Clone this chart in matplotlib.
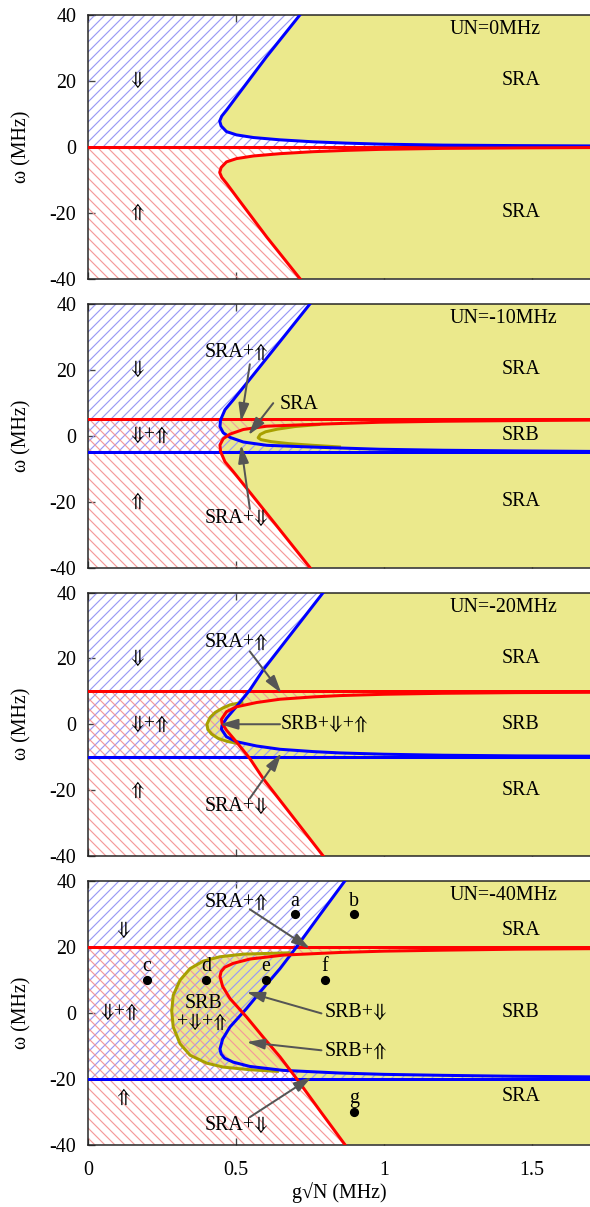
import matplotlib
matplotlib.use('Agg')
import matplotlib.pyplot as plt
from matplotlib.patches import Polygon

plt.rcParams['font.family'] = ['Liberation Serif', 'STIXGeneral', 'DejaVu Serif']
plt.rcParams['font.size'] = 12
plt.rcParams['hatch.linewidth'] = 0.7
plt.rcParams['axes.unicode_minus'] = False

DN = '\u21d3'
UP = '\u21d1'

XMAX = 1.7
YLIM = 40
titles = ['UN=0MHz', 'UN=-10MHz', 'UN=-20MHz', 'UN=-40MHz']
levels = [0, 5, 10, 20]  # red line at +level, blue line at -level

# blue C-curves (top -> nose -> lower branch); red curves are the mirror image
blue_x_p1 = [0.716, 0.604, 0.502, 0.469, 0.452, 0.445, 0.450, 0.468, 0.502, 0.559, 0.649, 0.761, 0.874, 0.986, 1.2, 1.45, 1.7]
blue_y_p1 = [40, 27.4, 15.2, 11.2, 9.3, 7.8, 6.3, 4.6, 3.6, 2.8, 2.1, 1.5, 1.1, 0.8, 0.5, 0.35, 0.25]
blue_x_p2 = [0.75, 0.64, 0.55, 0.491, 0.463, 0.448, 0.446, 0.457, 0.48, 0.525, 0.604, 0.716, 0.829, 0.986, 1.2, 1.45, 1.7]
blue_y_p2 = [40, 27.6, 17.5, 10.9, 7.9, 4.8, 2.8, 0.9, -0.5, -1.9, -2.9, -3.3, -3.65, -4.1, -4.4, -4.6, -4.75]
blue_x_p3 = [0.795, 0.70, 0.592, 0.547, 0.502, 0.468, 0.453, 0.451, 0.468, 0.502, 0.570, 0.649, 0.761, 0.851, 1.0, 1.2, 1.45, 1.7]
blue_y_p3 = [40, 29, 16.5, 10.4, 5.4, 1.8, -0.3, -1.5, -3.8, -5.3, -6.6, -7.6, -8.3, -8.7, -9.1, -9.4, -9.6, -9.7]
blue_x_p4 = [0.868, 0.786, 0.705, 0.649, 0.592, 0.536, 0.48, 0.455, 0.446, 0.450, 0.462, 0.491, 0.547, 0.66, 0.851, 1.0, 1.2, 1.45, 1.7]
blue_y_p4 = [40, 30, 20, 13.4, 7.4, 1.3, -4.3, -8.0, -11.0, -12.5, -13.8, -15.0, -16.3, -17.5, -18.3, -18.7, -19.0, -19.3, -19.45]

# olive boundary curves (upper end -> nose -> lower end)
olive_x_p2 = [0.78, 0.70, 0.64, 0.60, 0.582, 0.575, 0.585, 0.62, 0.68, 0.76, 0.85]
olive_y_p2 = [3.4, 2.8, 2.0, 1.2, 0.4, -0.6, -1.2, -1.8, -2.4, -2.9, -3.4]
olive_x_p3 = [0.52, 0.48, 0.455, 0.43, 0.412, 0.402, 0.405, 0.418, 0.44, 0.47, 0.51]
olive_y_p3 = [6.6, 5.9, 4.9, 3.6, 2.0, 0.0, -1.6, -3.0, -4.3, -5.2, -5.9]
olive_x_p4 = [0.68, 0.60, 0.525, 0.446, 0.39, 0.345, 0.311, 0.288, 0.283, 0.288, 0.311, 0.345, 0.401, 0.457, 0.547, 0.64]
olive_y_p4 = [18.2, 18.0, 17.8, 17.0, 15.7, 13.4, 9.9, 5.3, 0.5, -4.3, -9.4, -12.9, -15.3, -16.5, -17.3, -17.8]

blue_x = [blue_x_p1, blue_x_p2, blue_x_p3, blue_x_p4]
blue_y = [blue_y_p1, blue_y_p2, blue_y_p3, blue_y_p4]
olive_x = [None, olive_x_p2, olive_x_p3, olive_x_p4]
olive_y = [None, olive_y_p2, olive_y_p3, olive_y_p4]

# sample points in panel 4
dot_labels = ['a', 'b', 'c', 'd', 'e', 'f', 'g']
dot_x = [0.7, 0.9, 0.2, 0.4, 0.6, 0.8, 0.9]
dot_y = [30, 30, 10, 10, 10, 10, -30]

YELLOW = '#ebe98c'
OLIVE = '#a8a000'
ARROW = '#555555'

W, H, DPI = 590, 1207, 120
fig = plt.figure(figsize=(W / DPI, H / DPI), dpi=DPI)
tops = [15, 304, 592.5, 881]
ph = 263.5
left = 88 / W
width = 503 / W

axes = []
for i in range(4):
    ax = fig.add_axes([left, 1 - (tops[i] + ph) / H, width, ph / H])
    axes.append(ax)
    L = levels[i]
    bx = blue_x[i]
    by = blue_y[i]
    ry = [-v for v in by]
    bpts = list(zip(bx, by))
    rpts = list(zip(bx, ry))

    # yellow regions
    ax.add_patch(Polygon(bpts + [(XMAX, YLIM)], closed=True, facecolor=YELLOW, edgecolor='none', zorder=1))
    ax.add_patch(Polygon(rpts + [(XMAX, -YLIM)], closed=True, facecolor=YELLOW, edgecolor='none', zorder=1))
    if olive_x[i] is not None:
        opts = list(zip(olive_x[i], olive_y[i]))
        ax.add_patch(Polygon(opts + [(XMAX, olive_y[i][-1]), (XMAX, olive_y[i][0])], closed=True,
                             facecolor=YELLOW, edgecolor='none', zorder=1))

    # hatched regions
    ax.add_patch(Polygon([(0, YLIM)] + bpts + [(XMAX, -L), (0, -L)], closed=True,
                         facecolor='none', edgecolor='#9a9af5', lw=0, hatch='////', zorder=1.5))
    ax.add_patch(Polygon([(0, -YLIM)] + rpts + [(XMAX, L), (0, L)], closed=True,
                         facecolor='none', edgecolor='#f59a9a', lw=0, hatch='\\\\\\\\', zorder=1.5))

    if olive_x[i] is not None:
        ax.plot(olive_x[i], olive_y[i], color=OLIVE, lw=1.8, zorder=2)
    ax.axhline(-L, color='blue', lw=1.8, zorder=3)
    ax.axhline(L, color='red', lw=1.8, zorder=3)
    ax.plot(bx, by, color='blue', lw=1.8, zorder=3)
    ax.plot(bx, ry, color='red', lw=1.8, zorder=3)

    ax.set_xlim(0, XMAX)
    ax.set_ylim(-YLIM, YLIM)
    ax.set_axisbelow(True)
    ax.set_yticks([-40, -20, 0, 20, 40])
    ax.set_yticklabels(['-40', '-20', '0', '20', '40'])
    ax.set_xticks([0, 0.5, 1, 1.5])
    if i == 3:
        ax.set_xticklabels(['0', '0.5', '1', '1.5'])
        ax.set_xlabel('g\u221aN (MHz)')
        ax.xaxis.set_label_coords(0.5, -0.142)
    else:
        ax.set_xticklabels([])
    ax.tick_params(direction='in', length=4, width=0.8, color='#444444', top=True, right=False)
    ax.tick_params(axis='y', pad=7)
    ax.tick_params(axis='x', pad=10)
    ax.set_ylabel('\u03c9 (MHz)')
    ax.yaxis.set_label_coords(-0.112, 0.5)
    for s in ax.spines.values():
        s.set_linewidth(0.9)
        s.set_color('#222222')

    ax.text(1.223, 35.5, titles[i], ha='left', va='center', zorder=5)

def label(ax, x, y, s, ha='center'):
    ax.text(x, y, s, ha=ha, va='center', zorder=6)

def arrow(ax, start, end):
    ax.annotate('', xy=end, xytext=start, zorder=6,
                arrowprops=dict(arrowstyle='-|>,head_length=0.75,head_width=0.22', color=ARROW,
                                lw=1.2, mutation_scale=12, shrinkA=0, shrinkB=0))

# panel 1
a = axes[0]
label(a, 0.165, 20, DN); label(a, 0.165, -20, UP)
label(a, 1.463, 20, 'SRA'); label(a, 1.463, -20, 'SRA')
# panel 2
a = axes[1]
label(a, 0.165, 20, DN); label(a, 0.165, -20, UP); label(a, 0.209, 0, DN + '+' + UP)
label(a, 1.463, 20, 'SRA'); label(a, 1.463, 0, 'SRB'); label(a, 1.463, -20, 'SRA')
label(a, 0.502, 25.2, 'SRA+' + UP); arrow(a, (0.547, 21.7), (0.517, 4.3))
label(a, 0.713, 9.6, 'SRA'); arrow(a, (0.626, 9.9), (0.542, 0.2))
label(a, 0.502, -25.2, 'SRA+' + DN); arrow(a, (0.547, -22.2), (0.517, -2.8))
# panel 3
a = axes[2]
label(a, 0.165, 20, DN); label(a, 0.165, -20, UP); label(a, 0.209, 0, DN + '+' + UP)
label(a, 1.463, 20, 'SRA'); label(a, 1.463, 0, 'SRB'); label(a, 1.463, -20, 'SRA')
label(a, 0.502, 24.8, 'SRA+' + UP); arrow(a, (0.547, 22.1), (0.654, 9.4))
label(a, 0.652, 0, 'SRB+' + DN + '+' + UP, ha='left'); arrow(a, (0.649, 0), (0.446, 0))
label(a, 0.502, -25, 'SRA+' + DN); arrow(a, (0.547, -22.5), (0.654, -8.8))
# panel 4
a = axes[3]
label(a, 0.119, 25, DN); label(a, 0.119, -25.6, UP); label(a, 0.105, 0, DN + '+' + UP)
label(a, 1.463, 25.1, 'SRA'); label(a, 1.463, 0, 'SRB'); label(a, 1.463, -25.4, 'SRA')
label(a, 0.502, 33.6, 'SRA+' + UP); arrow(a, (0.547, 31.4), (0.75, 19.5))
label(a, 0.502, -34.2, 'SRA+' + DN); arrow(a, (0.547, -31.7), (0.756, -19.5))
label(a, 0.39, 2.9, 'SRB'); label(a, 0.386, -3.0, '+' + DN + '+' + UP)
label(a, 0.80, 0, 'SRB+' + DN, ha='left'); arrow(a, (0.789, -0.2), (0.536, 6.3))
label(a, 0.80, -11.8, 'SRB+' + UP, ha='left'); arrow(a, (0.789, -11.4), (0.536, -8.9))
a.plot(dot_x, dot_y, 'o', color='black', ms=4.5, zorder=6)
for t, x, y in zip(dot_labels, dot_x, dot_y):
    a.annotate(t, (x, y), xytext=(0, 5), textcoords='offset points', ha='center', va='baseline', zorder=6)

fig.savefig('out.png', dpi=DPI)
